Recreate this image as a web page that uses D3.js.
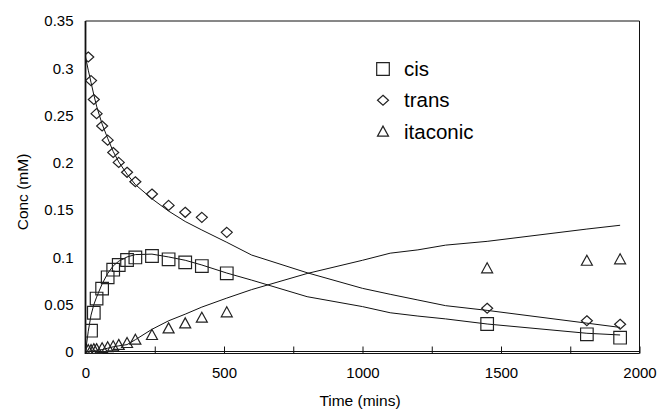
<!DOCTYPE html>
<html lang="en">
<head>
    <meta charset="UTF-8">
    <title>Conc vs Time</title>
    <script src="https://d3js.org/d3.v7.min.js"></script>
    <style>
        body { margin: 0; background: #fff; }
        text { font-family: Arial, "Liberation Sans", sans-serif; fill: #000; }
    </style>
</head>
<body>
    <svg width="663" height="411" id="chart"></svg>

    <script>
        // Observed samples (mins)
        const obsTimes = [10, 20, 30, 40, 60, 80, 100, 120, 150, 180, 240, 300, 360, 420, 510, 1450, 1810, 1930];
        const cisObs = [null, 0.0225, 0.0415, 0.0565, 0.067, 0.079, 0.087, 0.092, 0.0973, 0.1, 0.1015, 0.098, 0.0948, 0.0909, 0.0832, 0.0296, 0.0187, 0.0151];
        const transObs = [0.312, 0.287, 0.267, 0.252, 0.239, 0.224, 0.211, 0.2005, 0.19, 0.18, 0.167, 0.155, 0.1477, 0.1424, 0.1265, 0.0462, 0.0331, 0.0293];
        const itaconicObs = [0.002, 0.002, 0.003, 0.003, 0.004, 0.005, 0.006, 0.0075, 0.0095, 0.013, 0.018, 0.025, 0.0303, 0.0363, 0.042, 0.0885, 0.0965, 0.098];

        // Model curves
        const modelTimes = [0, 10, 20, 30, 40, 60, 80, 100, 120, 150, 180, 240, 300, 360, 420, 510, 600, 800, 1000, 1100, 1200, 1300, 1450, 1810, 1930];
        const cisModel = [0, 0.022, 0.039, 0.05, 0.058, 0.072, 0.083, 0.091, 0.096, 0.1005, 0.103, 0.1035, 0.1005, 0.097, 0.092, 0.0835, 0.076, 0.0585, 0.048, 0.0415, 0.038, 0.035, 0.0296, 0.0198, 0.018];
        const transModel = [0.312, 0.298, 0.285, 0.272, 0.26, 0.241, 0.226, 0.212, 0.201, 0.188, 0.177, 0.162, 0.149, 0.138, 0.129, 0.116, 0.1025, 0.0838, 0.0673, 0.061, 0.055, 0.049, 0.044, 0.0305, 0.026];
        const itaconicModel = [0, 0.0002, 0.0005, 0.001, 0.0015, 0.0025, 0.004, 0.0055, 0.0065, 0.0078, 0.013, 0.024, 0.033, 0.04, 0.0475, 0.057, 0.066, 0.083, 0.097, 0.1045, 0.108, 0.113, 0.117, 0.13, 0.134];

        const xTicks = [0, 250, 500, 750, 1000, 1250, 1500, 1750, 2000];
        const yTicks = [0, 0.05, 0.1, 0.15, 0.2, 0.25, 0.3, 0.35];
        const seriesNames = ["cis", "trans", "itaconic"];

        const svg = d3.select("#chart");
        const ink = "#111";

        const x = d3.scaleLinear().domain([0, 2000]).range([85.5, 639.5]);
        const y = d3.scaleLinear().domain([0, 0.35]).range([352, 21]);

        // marker shapes
        const shapes = {
            cis: "M-6.3,-6.3H6.3V6.3H-6.3Z",
            trans: "M0,-5L5.5,0L0,5L-5.5,0Z",
            itaconic: "M0,-5.5L5.5,4.5H-5.5Z"
        };

        svg.append("clipPath").attr("id", "plotclip")
            .append("rect")
            .attr("x", x(0)).attr("y", y(0.35))
            .attr("width", x(2000) - x(0)).attr("height", y(0) - y(0.35) + 2);

        // frame
        svg.append("path")
            .attr("d", `M${x(0)},${y(0.35)}H${x(2000)}V${y(0) + 1.5}`)
            .attr("fill", "none").attr("stroke", ink).attr("stroke-width", 1);
        svg.append("line")
            .attr("x1", x(0)).attr("x2", x(0)).attr("y1", y(0.35)).attr("y2", y(0) + 2)
            .attr("stroke", ink).attr("stroke-width", 1.8);
        svg.append("line")
            .attr("x1", x(0)).attr("x2", x(2000)).attr("y1", y(0) - 0.5).attr("y2", y(0) - 0.5)
            .attr("stroke", ink).attr("stroke-width", 1);
        svg.append("line")
            .attr("x1", x(0)).attr("x2", x(2000)).attr("y1", y(0) + 1.5).attr("y2", y(0) + 1.5)
            .attr("stroke", ink).attr("stroke-width", 1);

        // x axis, ticks point into the plot
        const xAxis = svg.append("g")
            .attr("transform", `translate(0,${y(0) + 1.5})`)
            .call(d3.axisBottom(x).tickValues(xTicks)
                .tickSizeInner(-7).tickSizeOuter(0).tickPadding(14)
                .tickFormat(d => d % 500 === 0 ? d : ""));
        xAxis.select(".domain").remove();
        xAxis.selectAll("line").attr("stroke", ink);
        xAxis.selectAll("text").style("font-size", "15px").attr("fill", "#000");

        // y axis, labels only
        const yAxis = svg.append("g")
            .attr("transform", `translate(${x(0)},0)`)
            .call(d3.axisLeft(y).tickValues(yTicks).tickSize(0).tickPadding(12)
                .tickFormat(d => d3.format("")(+d.toFixed(2))));
        yAxis.select(".domain").remove();
        yAxis.selectAll("text").style("font-size", "15px").attr("fill", "#000");

        // axis titles
        svg.append("text")
            .attr("x", 360).attr("y", 406)
            .attr("text-anchor", "middle")
            .style("font-size", "15.5px")
            .text("Time (mins)");
        svg.append("text")
            .attr("transform", "translate(28,192) rotate(-90)")
            .attr("text-anchor", "middle")
            .style("font-size", "15.5px")
            .text("Conc (mM)");

        const plot = svg.append("g").attr("clip-path", "url(#plotclip)");
        const line = d3.line().x(d => x(d[0])).y(d => y(d[1]));

        const models = { cis: cisModel, trans: transModel, itaconic: itaconicModel };
        const observed = { cis: cisObs, trans: transObs, itaconic: itaconicObs };

        seriesNames.forEach(name => {
            plot.append("path")
                .attr("d", line(modelTimes.map((t, i) => [t, models[name][i]])))
                .attr("fill", "none")
                .attr("stroke", ink)
                .attr("stroke-width", 1);
        });

        seriesNames.forEach(name => {
            const pts = obsTimes.map((t, i) => [t, observed[name][i]]).filter(d => d[1] != null);
            plot.selectAll(null)
                .data(pts)
                .enter()
                .append("path")
                .attr("d", shapes[name])
                .attr("transform", d => `translate(${x(d[0])},${y(d[1])})`)
                .attr("fill", "none")
                .attr("stroke", "#222")
                .attr("stroke-width", 1.2);
        });

        // legend
        const legend = svg.append("g").attr("transform", "translate(383,69)");
        seriesNames.forEach((name, i) => {
            legend.append("path")
                .attr("d", shapes[name])
                .attr("transform", `translate(0,${i * 31.3})`)
                .attr("fill", "none")
                .attr("stroke", "#222")
                .attr("stroke-width", 1.2);
            legend.append("text")
                .attr("x", 21)
                .attr("y", i * 31.3 + 7)
                .style("font-size", "20.5px")
                .text(name);
        });
    </script>
</body>
</html>
